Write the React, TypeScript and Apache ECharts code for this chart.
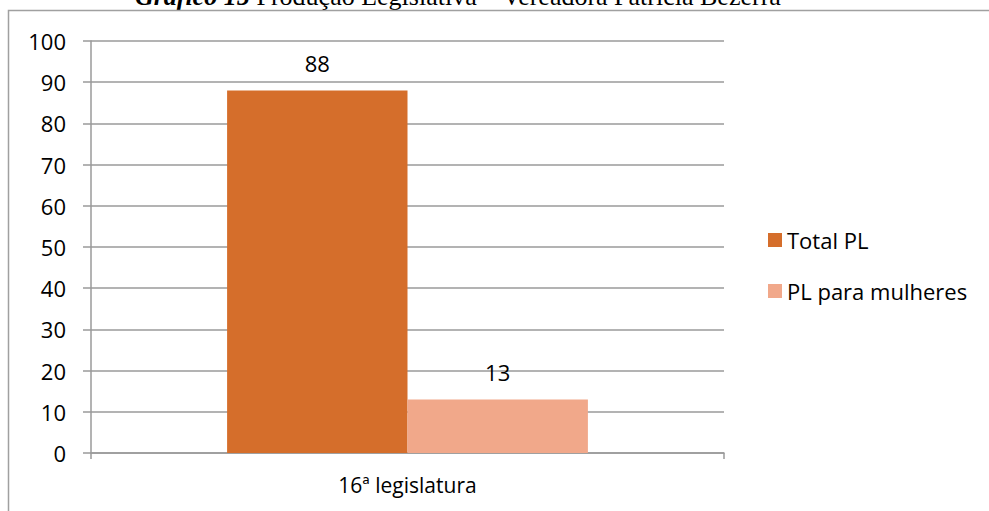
import React, { useEffect, useRef } from "react";
import * as echarts from "echarts";

const categories = ["16ª legislatura"];
const seriesNames = ["Total PL", "PL para mulheres"];
const totalPL = [88];
const plMulheres = [13];
const yMin = 0;
const yMax = 100;
const yInterval = 10;

const FONT = "'Open Sans', 'Noto Sans', sans-serif";

export default function App() {
  const ref = useRef<HTMLDivElement>(null);
  useEffect(() => {
    if (!ref.current) return;
    const chart = echarts.init(ref.current, null, { renderer: "svg" });
    chart.setOption({
      animation: false,
      backgroundColor: "#ffffff",
      textStyle: { fontFamily: FONT },
      graphic: [
        {
          type: "rect",
          shape: { x: 8.5, y: 10.5, width: 1000, height: 520 },
          style: { fill: "none", stroke: "#a0a0a0", lineWidth: 1.5 },
          z: 100,
        },
        {
          type: "text",
          x: 458,
          y: 9,
          style: {
            text: "{b|Gráfico 15} Produção Legislativa – Vereadora Patrícia Bezerra",
            align: "center",
            verticalAlign: "bottom",
            fontFamily: "'Liberation Serif', 'Times New Roman', serif",
            fontSize: 26,
            fill: "#000",
            rich: {
              b: {
                fontFamily: "'Liberation Serif', 'Times New Roman', serif",
                fontSize: 26,
                fontWeight: "bold",
                fontStyle: "italic",
                fill: "#000",
              },
            },
          },
        },
      ],
      legend: {
        orient: "vertical",
        left: 768,
        top: 229,
        padding: 0,
        itemWidth: 14,
        itemHeight: 14,
        itemGap: 29,
        icon: "rect",
        textStyle: { fontFamily: FONT, fontSize: 22, color: "#000", lineHeight: 22, padding: [0, 0, 0, 0] },
        data: seriesNames,
      },
      grid: { left: 91, right: 265, top: 41, bottom: 58, containLabel: false },
      xAxis: {
        type: "category",
        data: categories,
        axisLine: { show: true, lineStyle: { color: "#9a9a9a", width: 1.5 } },
        axisTick: { show: true, length: 6, alignWithLabel: false, lineStyle: { color: "#9a9a9a", width: 1.5 } },
        axisLabel: { fontFamily: FONT, fontSize: 21, color: "#000", margin: 21 },
      },
      yAxis: {
        type: "value",
        min: yMin,
        max: yMax,
        interval: yInterval,
        axisLine: { show: true, lineStyle: { color: "#9a9a9a", width: 1.5 } },
        axisTick: { show: true, length: 8, lineStyle: { color: "#9a9a9a", width: 1.5 } },
        splitLine: { show: true, lineStyle: { color: "#9a9a9a", width: 1.5 } },
        axisLabel: { fontFamily: FONT, fontSize: 22, color: "#000", margin: 25 },
      },
      series: [
        {
          name: seriesNames[0],
          type: "bar",
          data: totalPL,
          barGap: "0%",
          barCategoryGap: "43%",
          itemStyle: { color: "#D56E2B" },
          label: { show: true, position: "top", distance: 16, fontFamily: FONT, fontSize: 22, color: "#000" },
        },
        {
          name: seriesNames[1],
          type: "bar",
          data: plMulheres,
          barGap: "0%",
          barCategoryGap: "43%",
          itemStyle: { color: "#F1A88A" },
          label: { show: true, position: "top", distance: 16, fontFamily: FONT, fontSize: 22, color: "#000" },
        },
      ],
    });
    return () => chart.dispose();
  }, []);
  return (
    <div
      ref={ref}
      style={{ position: "absolute", left: 0, top: 0, width: 989, height: 511 }}
    />
  );
}
